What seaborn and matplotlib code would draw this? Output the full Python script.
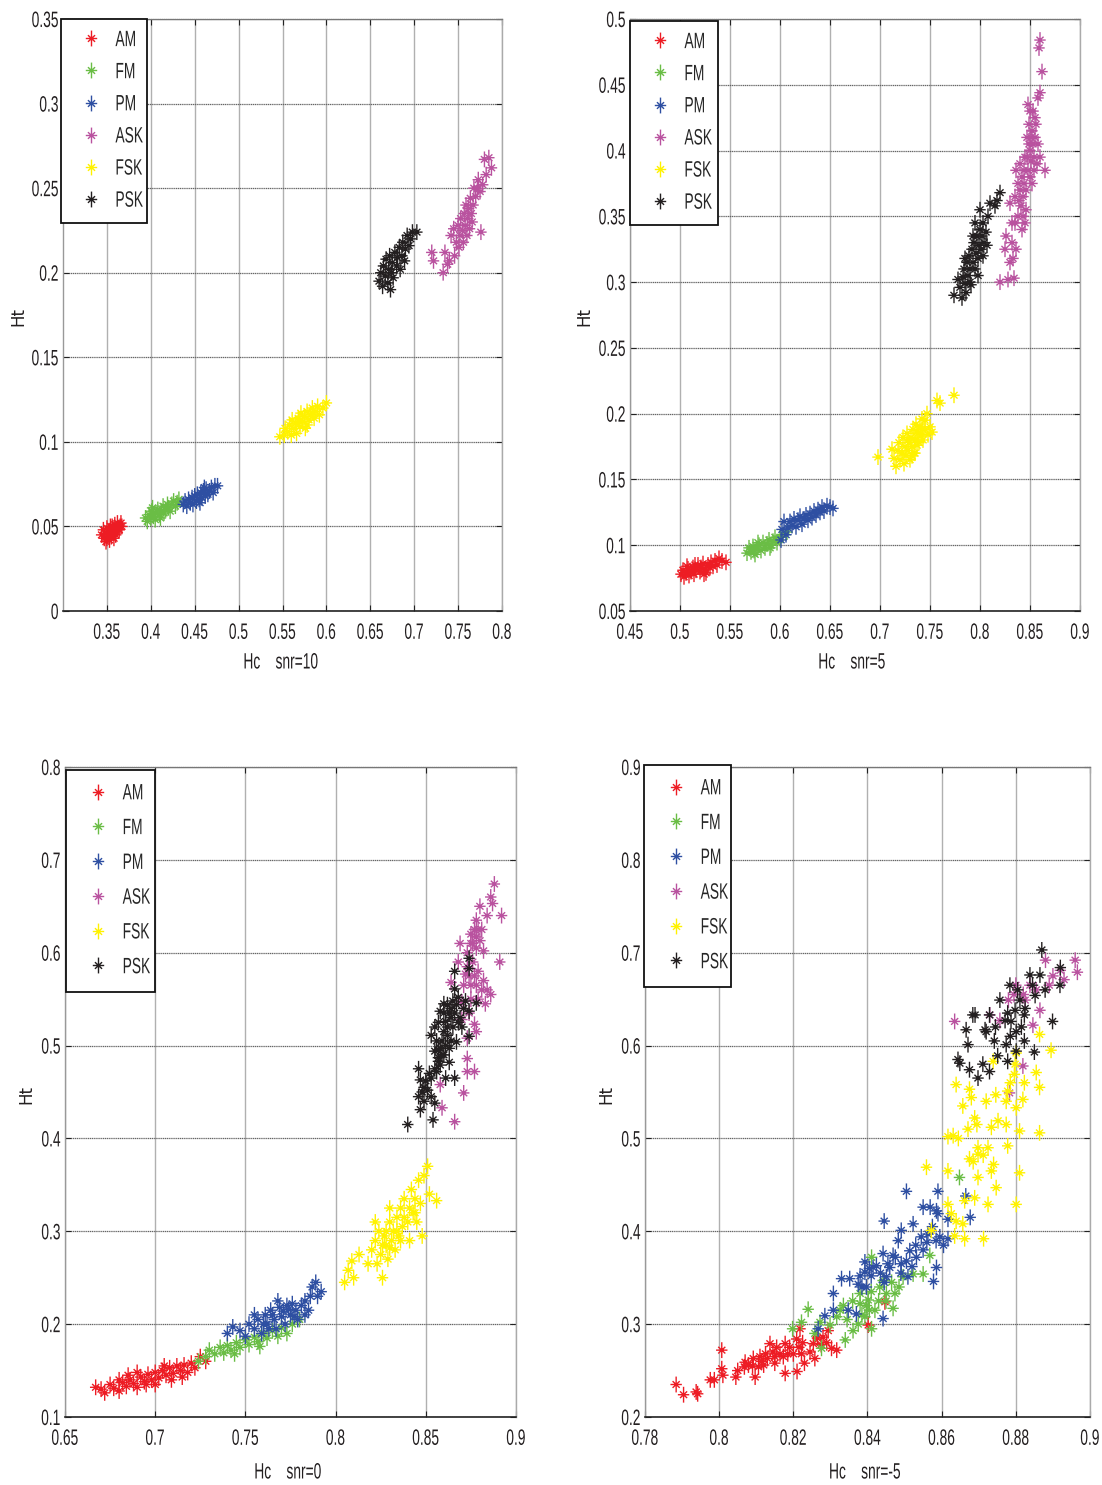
import matplotlib
matplotlib.use("Agg")
import matplotlib.pyplot as plt
from matplotlib.markers import MarkerStyle
from matplotlib.patheffects import AbstractPathEffect
from matplotlib.path import Path
from matplotlib.transforms import Affine2D
import pandas as pd
import seaborn as sns

SERIES = ["AM", "FM", "PM", "ASK", "FSK", "PSK"]
COLORS = ["#ed1c24", "#6abd45", "#2e4fa2", "#b9529f", "#fff200", "#231f20"]

P1_AM = [(.344,.045),(.346,.048),(.347,.043),(.349,.046),(.350,.049),(.350,.043),(.352,.045),(.352,.047),(.353,.042),(.354,.05),(.355,.044),(.355,.047),(.357,.046),(.357,.049),(.358,.043),(.359,.051),(.360,.047),(.360,.045),(.362,.049),(.362,.052),(.364,.048),(.365,.05),(.366,.052),(.367,.050),(.349,.041),(.356,.05)]
P1_FM = [(.394,.055),(.396,.053),(.398,.057),(.400,.055),(.401,.059),(.403,.056),(.405,.054),(.406,.058),(.408,.060),(.410,.057),(.412,.059),(.414,.062),(.415,.058),(.417,.060),(.419,.063),(.420,.061),(.422,.059),(.424,.063),(.426,.065),(.428,.062),(.430,.064),(.432,.066),(.411,.055),(.402,.061)]
P1_PM = [(.437,.063),(.439,.065),(.441,.062),(.443,.066),(.445,.064),(.447,.067),(.448,.063),(.450,.068),(.452,.065),(.453,.069),(.455,.066),(.457,.070),(.458,.067),(.460,.071),(.462,.068),(.463,.072),(.465,.069),(.467,.071),(.469,.073),(.471,.070),(.473,.074),(.476,.074),(.456,.064),(.461,.073)]
P1_ASK = [(.72,.212),(.722,.207),(.733,.2),(.735,.212),(.738,.205),(.74,.207),(.742,.222),(.745,.226),(.746,.21),(.748,.218),(.75,.228),(.751,.215),(.752,.222),(.753,.232),(.755,.225),(.756,.218),(.757,.235),(.758,.228),(.759,.24),(.76,.222),(.761,.232),(.762,.238),(.763,.226),(.764,.244),(.765,.235),(.766,.23),(.767,.24),(.768,.25),(.77,.245),(.772,.25),(.773,.255),(.775,.248),(.776,.224),(.778,.252),(.78,.267),(.785,.268),(.788,.262),(.782,.258)]
P1_FSK = [(.547,.103),(.552,.104),(.553,.108),(.556,.106),(.558,.11),(.56,.104),(.561,.113),(.563,.108),(.565,.111),(.566,.105),(.568,.114),(.57,.109),(.571,.117),(.573,.112),(.575,.115),(.576,.108),(.578,.118),(.58,.113),(.582,.116),(.584,.12),(.586,.114),(.588,.118),(.59,.121),(.592,.116),(.596,.12),(.60,.123),(.578,.11),(.569,.112),(.585,.117)]
P1_PSK = [(.66,.195),(.662,.2),(.664,.192),(.665,.204),(.667,.198),(.668,.208),(.67,.194),(.671,.202),(.672,.21),(.674,.2),(.675,.206),(.676,.197),(.678,.212),(.68,.204),(.681,.209),(.683,.215),(.684,.202),(.686,.21),(.687,.218),(.689,.207),(.69,.214),(.692,.222),(.694,.216),(.696,.22),(.698,.224),(.703,.224),(.673,.19)]

P2_AM = [(.501,.078),(.503,.081),(.504,.076),(.506,.079),(.508,.082),(.509,.077),(.511,.08),(.513,.083),(.514,.078),(.516,.081),(.518,.085),(.52,.08),(.521,.083),(.523,.086),(.525,.082),(.526,.079),(.528,.085),(.53,.083),(.531,.087),(.533,.084),(.535,.088),(.537,.085),(.539,.09),(.542,.088),(.546,.087),(.515,.085),(.507,.084),(.524,.078)]
P2_FM = [(.567,.094),(.569,.098),(.571,.095),(.573,.099),(.575,.093),(.577,.097),(.579,.1),(.581,.096),(.583,.102),(.585,.098),(.587,.101),(.589,.104),(.591,.1),(.593,.103),(.595,.106),(.597,.102),(.6,.106),(.603,.108),(.607,.11),(.578,.102),(.59,.098),(.574,.096)]
P2_PM = [(.602,.112),(.604,.118),(.606,.108),(.608,.113),(.61,.118),(.612,.115),(.614,.12),(.616,.114),(.618,.119),(.62,.122),(.622,.116),(.624,.12),(.626,.123),(.628,.119),(.63,.124),(.632,.121),(.634,.126),(.636,.123),(.638,.127),(.64,.125),(.642,.129),(.644,.126),(.647,.13),(.65,.129),(.653,.128),(.601,.104)]
P2_ASK = [(.82,.30),(.825,.325),(.828,.302),(.83,.315),(.832,.33),(.834,.303),(.835,.345),(.836,.325),(.826,.335),(.83,.36),(.835,.365),(.838,.35),(.84,.37),(.842,.34),(.844,.375),(.846,.355),(.832,.345),(.836,.385),(.84,.39),(.843,.365),(.845,.395),(.848,.385),(.85,.40),(.847,.41),(.849,.42),(.852,.415),(.853,.43),(.85,.43),(.855,.41),(.857,.39),(.86,.395),(.865,.385),(.856,.42),(.854,.395),(.848,.435),(.852,.375),(.86,.444),(.858,.44),(.862,.46),(.86,.484),(.859,.478),(.842,.38),(.838,.375),(.841,.358),(.844,.385),(.849,.405),(.851,.392),(.846,.37),(.853,.405),(.855,.425),(.851,.41),(.847,.395),(.843,.35),(.839,.362),(.85,.38),(.854,.385),(.858,.405),(.833,.318),(.845,.345)]
P2_FSK = [(.698,.167),(.712,.173),(.714,.166),(.716,.16),(.718,.172),(.719,.178),(.72,.165),(.722,.17),(.723,.182),(.724,.162),(.725,.175),(.726,.168),(.727,.185),(.728,.172),(.729,.178),(.73,.165),(.731,.182),(.732,.175),(.733,.188),(.734,.17),(.735,.18),(.736,.192),(.737,.176),(.738,.185),(.739,.178),(.74,.19),(.741,.183),(.742,.196),(.743,.18),(.745,.188),(.747,.2),(.748,.184),(.75,.19),(.752,.186),(.757,.21),(.76,.208),(.774,.214),(.745,.195),(.735,.17),(.728,.18),(.732,.168),(.737,.186),(.743,.188)]
P2_PSK = [(.774,.29),(.778,.302),(.78,.296),(.782,.288),(.783,.304),(.784,.31),(.785,.299),(.786,.292),(.787,.315),(.788,.305),(.789,.32),(.79,.31),(.791,.298),(.792,.325),(.793,.315),(.794,.33),(.795,.31),(.796,.322),(.797,.335),(.798,.318),(.799,.328),(.8,.34),(.801,.325),(.802,.335),(.803,.32),(.804,.33),(.806,.338),(.8,.355),(.81,.36),(.815,.358),(.82,.368),(.817,.362),(.798,.305),(.807,.328),(.795,.345),(.79,.3),(.785,.318),(.803,.345),(.793,.335),(.808,.35)]

P3_AM = [(.667,.132),(.67,.13),(.672,.126),(.675,.135),(.677,.131),(.68,.128),(.682,.137),(.684,.133),(.686,.14),(.688,.136),(.69,.132),(.692,.143),(.694,.138),(.696,.146),(.698,.14),(.70,.148),(.702,.142),(.704,.15),(.706,.145),(.708,.153),(.71,.147),(.712,.155),(.714,.15),(.716,.156),(.718,.148),(.72,.158),(.722,.153),(.725,.165),(.728,.16),(.69,.148),(.70,.135),(.68,.14),(.709,.14),(.685,.145),(.695,.135),(.705,.155),(.715,.143)]
P3_FM = [(.724,.16),(.728,.165),(.73,.172),(.733,.168),(.736,.175),(.738,.169),(.74,.177),(.742,.172),(.745,.18),(.747,.175),(.75,.183),(.752,.178),(.755,.186),(.757,.181),(.76,.19),(.762,.185),(.765,.193),(.768,.187),(.77,.196),(.773,.19),(.776,.2),(.78,.205),(.744,.168),(.758,.176)]
P3_PM = [(.74,.19),(.743,.197),(.747,.193),(.75,.187),(.752,.2),(.755,.195),(.757,.205),(.759,.19),(.761,.21),(.762,.2),(.764,.215),(.766,.205),(.767,.195),(.769,.218),(.77,.208),(.772,.2),(.773,.22),(.775,.21),(.776,.222),(.778,.215),(.779,.205),(.781,.22),(.783,.225),(.785,.215),(.786,.23),(.787,.24),(.789,.245),(.79,.23),(.792,.235),(.755,.21),(.768,.225),(.783,.21),(.76,.2),(.765,.21),(.771,.214),(.777,.208),(.774,.216),(.763,.195)]
P3_ASK = [(.888,.674),(.886,.66),(.887,.653),(.88,.65),(.884,.64),(.892,.64),(.878,.635),(.875,.62),(.878,.617),(.88,.613),(.869,.61),(.882,.602),(.891,.59),(.868,.59),(.873,.6),(.878,.605),(.874,.575),(.882,.57),(.864,.568),(.878,.565),(.884,.56),(.886,.555),(.875,.55),(.883,.545),(.877,.523),(.878,.515),(.873,.486),(.873,.472),(.877,.472),(.871,.449),(.858,.458),(.859,.433),(.866,.418),(.87,.528),(.873,.508),(.875,.61),(.872,.577),(.87,.547),(.876,.59),(.879,.58),(.871,.565),(.875,.565),(.881,.625),(.877,.625),(.874,.535),(.879,.55),(.876,.61),(.879,.625),(.873,.585),(.877,.575),(.881,.56)]
P3_FSK = [(.805,.245),(.807,.258),(.809,.268),(.81,.25),(.813,.275),(.818,.265),(.82,.28),(.822,.29),(.823,.265),(.824,.3),(.825,.275),(.826,.25),(.827,.295),(.828,.285),(.829,.27),(.83,.31),(.831,.29),(.832,.3),(.833,.28),(.834,.315),(.835,.295),(.836,.325),(.837,.305),(.838,.335),(.84,.31),(.841,.29),(.842,.345),(.843,.32),(.844,.335),(.845,.31),(.846,.355),(.847,.33),(.848,.295),(.849,.36),(.851,.37),(.852,.34),(.856,.333),(.83,.325),(.822,.31),(.826,.285),(.83,.282),(.834,.3),(.838,.315),(.841,.325),(.836,.29),(.828,.3),(.844,.32)]
P3_PSK = [(.84,.415),(.854,.42),(.847,.431),(.846,.445),(.846,.475),(.847,.463),(.851,.452),(.855,.438),(.853,.465),(.857,.483),(.855,.494),(.861,.465),(.866,.465),(.858,.497),(.853,.511),(.855,.52),(.862,.511),(.867,.504),(.874,.51),(.858,.537),(.864,.53),(.869,.53),(.862,.544),(.867,.544),(.874,.537),(.878,.546),(.866,.561),(.866,.58),(.874,.594),(.874,.583),(.86,.49),(.865,.52),(.857,.487),(.863,.497),(.858,.479),(.861,.526),(.871,.54),(.849,.455),(.852,.47),(.855,.475),(.859,.505),(.86,.515),(.864,.505),(.857,.525),(.866,.535),(.87,.52),(.872,.548),(.86,.535),(.856,.505),(.863,.482),(.849,.44),(.853,.445),(.868,.552),(.865,.548),(.861,.5),(.857,.495),(.859,.49),(.862,.52),(.864,.54),(.868,.525),(.86,.545),(.863,.535),(.856,.472),(.85,.462),(.848,.45)]

P4_AM = [(.7884,.235),(.7904,.224),(.7938,.227),(.7942,.225),(.7976,.24),(.7987,.24),(.8007,.272),(.8007,.252),(.801,.245),(.8045,.243),(.805,.25),(.807,.259),(.8068,.254),(.8092,.263),(.8097,.243),(.811,.265),(.812,.256),(.813,.263),(.8137,.279),(.815,.265),(.8155,.275),(.8178,.247),(.8178,.279),(.8173,.265),(.82,.268),(.821,.249),(.8209,.284),(.8222,.268),(.8218,.295),(.8258,.263),(.8254,.279),(.828,.286),(.8294,.293),(.8317,.272),(.8303,.274),(.8402,.299),(.8447,.324),(.8079,.256),(.8106,.254),(.8164,.268),(.809,.255),(.8125,.268),(.815,.258),(.819,.275),(.8225,.28),(.823,.258),(.8275,.278),(.829,.28),(.8115,.26),(.8145,.27),(.8185,.268),(.8215,.275),(.8245,.27),(.8265,.285)]
P4_FM = [(.8198,.295),(.8222,.302),(.824,.316),(.8258,.29),(.8276,.274),(.8272,.302),(.8335,.32),(.8317,.308),(.834,.283),(.8361,.293),(.838,.322),(.8397,.32),(.8393,.308),(.842,.315),(.8411,.295),(.8433,.34),(.8451,.333),(.8469,.317),(.8474,.333),(.8496,.351),(.8523,.354),(.855,.354),(.8411,.372),(.8568,.374),(.8648,.458),(.8326,.315),(.8442,.347),(.838,.333),(.8299,.299),(.8402,.326),(.8385,.31),(.836,.325),(.841,.335),(.8465,.345),(.8345,.305),(.843,.325),(.8375,.3),(.8405,.315),(.845,.325),(.8485,.34)]
P4_PM = [(.8267,.295),(.8308,.333),(.8285,.309),(.8308,.315),(.8348,.315),(.837,.311),(.833,.349),(.8352,.349),(.8393,.356),(.8375,.343),(.8397,.34),(.8393,.367),(.8424,.363),(.8442,.376),(.846,.361),(.8451,.351),(.8491,.365),(.8509,.351),(.8514,.379),(.8483,.39),(.8491,.401),(.8523,.408),(.8445,.411),(.8505,.443),(.859,.443),(.855,.426),(.8569,.426),(.8586,.422),(.859,.419),(.8545,.394),(.8563,.397),(.8595,.394),(.8617,.392),(.8586,.361),(.8578,.346),(.8665,.438),(.8677,.415),(.8442,.306),(.8532,.372),(.8469,.374),(.8617,.413),(.8415,.361),(.8475,.372),(.8505,.368),(.856,.388),(.853,.385),(.8435,.355),(.838,.352),(.8575,.405),(.8605,.385),(.8385,.34),(.841,.352),(.8455,.365),(.849,.355),(.852,.362),(.8405,.36),(.8445,.345),(.855,.38),(.8585,.39)]
P4_ASK = [(.8635,.626),(.8783,.549),(.8819,.578),(.8846,.622),(.896,.692),(.8966,.679),(.892,.681),(.889,.665),(.8838,.665),(.88,.665),(.878,.649),(.888,.692),(.8825,.649),(.8865,.638),(.8757,.627),(.873,.633),(.893,.671),(.8855,.66),(.882,.655),(.89,.675),(.8795,.655)]
P4_FSK = [(.8639,.558),(.8675,.553),(.8657,.535),(.8689,.522),(.8671,.51),(.8631,.503),(.8617,.502),(.8734,.512),(.8752,.519),(.872,.54),(.8746,.547),(.8778,.551),(.8774,.54),(.8796,.569),(.8823,.56),(.8819,.542),(.8801,.533),(.8774,.515),(.881,.508),(.8778,.492),(.8864,.506),(.8725,.49),(.8698,.483),(.8675,.478),(.8734,.465),(.8747,.447),(.8698,.458),(.8559,.469),(.8617,.465),(.881,.463),(.8689,.436),(.8725,.429),(.8801,.429),(.8662,.433),(.8617,.429),(.8626,.419),(.8657,.408),(.8639,.411),(.8635,.395),(.8662,.392),(.8572,.401),(.8713,.392),(.8864,.612),(.8895,.595),(.8855,.571),(.8864,.555),(.8739,.583),(.8801,.592),(.868,.544),(.8698,.49),(.8685,.475),(.8712,.482),(.8645,.5),(.8695,.515),(.874,.472),(.8798,.58),(.8785,.56)]
P4_PSK = [(.8644,.585),(.8649,.581),(.8675,.574),(.8698,.565),(.8711,.58),(.8729,.572),(.8751,.589),(.8778,.583),(.885,.593),(.8671,.601),(.8666,.617),(.8684,.633),(.872,.615),(.8742,.605),(.8774,.601),(.8823,.605),(.8801,.594),(.8899,.626),(.8729,.633),(.8787,.626),(.8801,.615),(.8823,.633),(.887,.703),(.8838,.676),(.892,.684),(.8784,.665),(.8879,.66),(.869,.633),(.8757,.649),(.8811,.649),(.8852,.654),(.8798,.638),(.8919,.665),(.8717,.617),(.8771,.627),(.8865,.676),(.8805,.66),(.8825,.64),(.8778,.635),(.8745,.62),(.8845,.665),(.8785,.61),(.8815,.62)]

P1_XTICKS = [.35,.4,.45,.5,.55,.6,.65,.7,.75,.8]
P1_YTICKS = [0,.05,.1,.15,.2,.25,.3,.35]
P2_XTICKS = [.45,.5,.55,.6,.65,.7,.75,.8,.85,.9]
P2_YTICKS = [.05,.1,.15,.2,.25,.3,.35,.4,.45,.5]
P3_XTICKS = [.65,.7,.75,.8,.85,.9]
P3_YTICKS = [.1,.2,.3,.4,.5,.6,.7,.8]
P4_XTICKS = [.78,.8,.82,.84,.86,.88,.9]
P4_YTICKS = [.2,.3,.4,.5,.6,.7,.8,.9]

W, H = 1102, 1485
sns.set_theme(style="white")
plt.rcParams["font.family"] = ["Liberation Sans", "DejaVu Sans"]
fig = plt.figure(figsize=(W / 100, H / 100), dpi=100)


class Narrow(AbstractPathEffect):
    """Condense text horizontally (the reference uses a very narrow face)."""

    def __init__(self, anchor=0.5, k=0.62):
        super().__init__()
        self.anchor, self.k = anchor, k

    def draw_path(self, renderer, gc, tpath, affine, rgbFace=None):
        w = tpath.get_extents().x1 * self.anchor
        squeeze = Affine2D().translate(-w, 0).scale(self.k, 1).translate(w, 0)
        renderer.draw_path(gc, tpath, squeeze + affine, rgbFace)


STAR = MarkerStyle(Path(
    [(0, -1), (0, 1), (-.72, 0), (.72, 0), (-.45, -.42), (.45, .42), (-.45, .42), (.45, -.42)],
    [Path.MOVETO, Path.LINETO] * 4))


def fmt(v):
    return f"{v:.2f}".rstrip("0").rstrip(".")


PANELS = [
    dict(data=[P1_AM,P1_FM,P1_PM,P1_ASK,P1_FSK,P1_PSK], box=(63,19,502,611), xlim=(.30,.80), ylim=(0,.35),
         xt=P1_XTICKS, yt=P1_YTICKS, xl="Hc    snr=10", xlx=281, xly=663, ylx=18, leg=(61,19,86), ls=.5, bp=.5),
    dict(data=[P2_AM,P2_FM,P2_PM,P2_ASK,P2_FSK,P2_PSK], box=(630,19,1080,611), xlim=(.45,.90), ylim=(.05,.50),
         xt=P2_XTICKS, yt=P2_YTICKS, xl="Hc    snr=5", xlx=852, xly=663, ylx=584, leg=(630,21,88), ls=.5, bp=.5),
    dict(data=[P3_AM,P3_FM,P3_PM,P3_ASK,P3_FSK,P3_PSK], box=(65,767,516,1417), xlim=(.65,.90), ylim=(.1,.8),
         xt=P3_XTICKS, yt=P3_YTICKS, xl="Hc    snr=0", xlx=288, xly=1473, ylx=26, leg=(66,770,89), ls=.62, bp=.6),
    dict(data=[P4_AM,P4_FM,P4_PM,P4_ASK,P4_FSK,P4_PSK], box=(645,767,1090,1417), xlim=(.78,.90), ylim=(.2,.9),
         xt=P4_XTICKS, yt=P4_YTICKS, xl="Hc    snr=-5", xlx=865, xly=1473, ylx=606, leg=(644,765,87), ls=.62, bp=.6),
]

for p in PANELS:
    x0, y0, x1, y1 = p["box"]
    ax = fig.add_axes([x0 / W, 1 - y1 / H, (x1 - x0) / W, (y1 - y0) / H])
    rows = [(n, a, b) for n, pts in zip(SERIES, p["data"]) for a, b in pts]
    df = pd.DataFrame(rows, columns=["series", "Hc", "Ht"])
    sns.scatterplot(data=df, x="Hc", y="Ht", hue="series", hue_order=SERIES, palette=COLORS,
                    marker=STAR, s=130, linewidth=1.0, edgecolor="face", ax=ax, zorder=3)
    ax.set_xlim(*p["xlim"])
    ax.set_ylim(*p["ylim"])
    ax.set_xticks(p["xt"], [fmt(v) for v in p["xt"]])
    ax.set_yticks(p["yt"], [fmt(v) for v in p["yt"]])
    ax.tick_params(direction="in", length=4, width=0.8, color="#222222", labelsize=16,
                   labelcolor="#231f20", top=True, right=True, bottom=True, left=True)
    ax.tick_params(axis="x", pad=8.5)
    ax.tick_params(axis="y", pad=3)
    for t in ax.get_xticklabels():
        t.set_path_effects([Narrow(0.5)])
    for t in ax.get_yticklabels():
        t.set_path_effects([Narrow(1.0)])
    ax.xaxis.grid(True, color="#b0b0b0", lw=1.0, ls="-")
    ax.yaxis.grid(True, color="#666666", lw=0.9, ls=(0, (1, 0.5)))
    ax.set_axisbelow(True)
    ax.spines["bottom"].set(color="#222222", lw=1.2)
    ax.spines["left"].set(color="#999999", lw=1.0)
    ax.spines["top"].set(color="#777777", lw=0.9, ls=(0, (1, 0.5)))
    ax.spines["right"].set(color="#aaaaaa", lw=1.0)
    ax.set_xlabel("")
    ax.set_ylabel("")
    fig.text(p["xlx"] / W, 1 - p["xly"] / H, p["xl"], fontsize=16, ha="center", va="center",
             color="#231f20", path_effects=[Narrow(0.5)])
    fig.text(p["ylx"] / W, 1 - ((y0 + y1) / 2 + 2) / H, "Ht", fontsize=12, rotation=90, ha="center", va="center",
             color="#231f20", family="DejaVu Sans")
    lx, ly, lw_ = p["leg"]
    handles, labels = ax.get_legend_handles_labels()
    leg = ax.legend(handles, labels, loc="upper left", mode="expand",
                    bbox_to_anchor=(lx / W, 1 - ly / H, lw_ / W, 0), bbox_transform=fig.transFigure,
                    borderaxespad=0, frameon=True, fancybox=False, framealpha=1, edgecolor="#111111",
                    fontsize=16, labelspacing=p["ls"], handlelength=1.7, handletextpad=0.25, borderpad=p["bp"])
    leg.get_frame().set_linewidth(1.3)
    leg.set_zorder(5)
    for t in leg.get_texts():
        t.set_path_effects([Narrow(0.0)])

fig.savefig("out.png", dpi=100)
